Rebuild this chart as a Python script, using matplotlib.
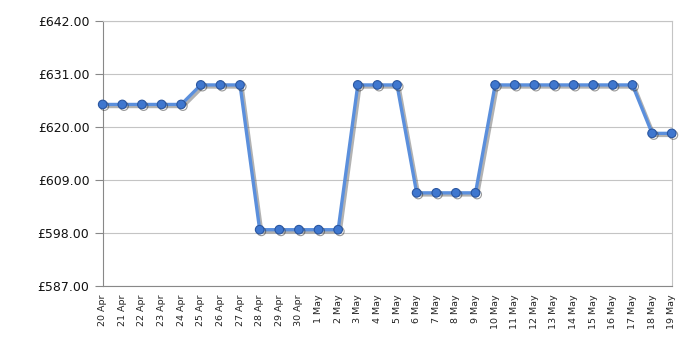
import matplotlib.pyplot as plt
import matplotlib.patheffects as pe

# Price history data
dates = ["20 Apr", "21 Apr", "22 Apr", "23 Apr", "24 Apr", "25 Apr", "26 Apr",
         "27 Apr", "28 Apr", "29 Apr", "30 Apr", "1 May", "2 May", "3 May",
         "4 May", "5 May", "6 May", "7 May", "8 May", "9 May", "10 May",
         "11 May", "12 May", "13 May", "14 May", "15 May", "16 May", "17 May",
         "18 May", "19 May"]
prices = [624.75, 624.75, 624.75, 624.75, 624.75, 628.80, 628.80, 628.80,
          598.75, 598.75, 598.75, 598.75, 598.75, 628.80, 628.80, 628.80,
          606.40, 606.40, 606.40, 606.40, 628.80, 628.80, 628.80, 628.80,
          628.80, 628.80, 628.80, 628.80, 618.75, 618.75]
y_ticks = [587, 598, 609, 620, 631, 642]

fig = plt.figure(figsize=(7, 3.5), dpi=100)
ax = fig.add_axes([0.1467, 0.182, 0.8129, 0.757])

x = list(range(len(dates)))
ax.plot(x, prices, color="#5b8fdc", linewidth=2.4, zorder=3, clip_on=False,
        path_effects=[pe.SimpleLineShadow(offset=(1.5, -1.5), shadow_color="#555555", alpha=0.45),
                      pe.Normal()])
ax.plot(x, prices, linestyle="none", marker="o", markersize=6.2,
        markerfacecolor="#3f77cf", markeredgecolor="#2a56a0", markeredgewidth=0.8,
        zorder=4, clip_on=False,
        path_effects=[pe.SimpleLineShadow(offset=(1.2, -1.2), shadow_color="#333333", alpha=0.5),
                      pe.Normal()])

ax.set_xlim(0, len(dates) - 1)
ax.set_ylim(y_ticks[0], y_ticks[-1])

# labels for every day, grid lines every third day
ax.set_xticks(x)
ax.set_xticklabels(dates, rotation=90, fontsize=6.8, color="#222222")
ax.tick_params(axis="x", which="major", length=0, pad=6)
ax.set_xticks(x[1::3], minor=True)
ax.tick_params(axis="x", which="minor", length=4, color="#888888")
ax.grid(axis="x", which="minor", color="#c4c4c4", linewidth=0.8)

ax.set_yticks(y_ticks)
ax.set_yticklabels(["£%.2f" % v for v in y_ticks], fontsize=9, color="#111111")
ax.tick_params(axis="y", length=6, color="#888888")
ax.grid(axis="y", color="#c4c4c4", linewidth=0.8)
ax.set_axisbelow(True)

for side in ["left", "bottom"]:
    ax.spines[side].set_color("#888888")
for side in ["top", "right"]:
    ax.spines[side].set_color("#c4c4c4")

fig.savefig("out.png", dpi=100)
